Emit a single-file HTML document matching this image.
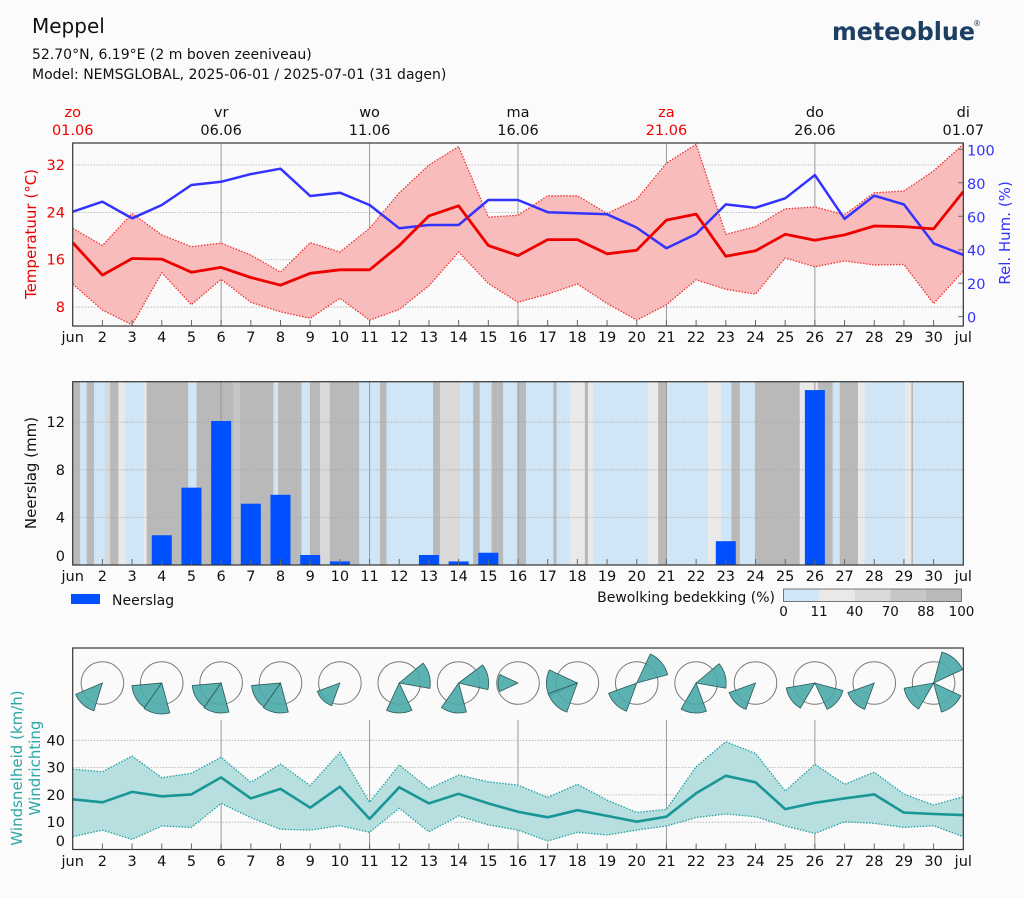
<!DOCTYPE html>
<html><head><meta charset="utf-8">
<style>
body{margin:0;background:#fbfbfb;width:1024px;height:894px;overflow:hidden;font-family:"DejaVu Sans","Liberation Sans",sans-serif;}
svg text{font-family:"DejaVu Sans","Liberation Sans",sans-serif;}
</style></head>
<body>
<svg id="c" width="1024" height="894" viewBox="0 0 1024 894" xmlns="http://www.w3.org/2000/svg">
<defs><clipPath id="cp1"><rect x="72.7" y="143" width="890.6" height="183"/></clipPath></defs>
<text x="32" y="33" font-size="20" fill="#111">Meppel</text>
<text x="32" y="59" font-size="14" fill="#111">52.70°N, 6.19°E (2 m boven zeeniveau)</text>
<text x="32" y="79" font-size="14" fill="#111">Model: NEMSGLOBAL, 2025-06-01 / 2025-07-01 (31 dagen)</text>
<text x="832" y="40" font-size="25" font-weight="bold" fill="#1d3f63" textLength="143" lengthAdjust="spacingAndGlyphs">meteoblue</text>
<text x="973" y="26" font-size="8" fill="#1d3f63">®</text>
<g id="g"></g>
</svg>
<script>
const days = [1,2,3,4,5,6,7,8,9,10,11,12,13,14,15,16,17,18,19,20,21,22,23,24,25,26,27,28,29,30,31];
const tempMean = [18.9,13.4,16.2,16.1,13.9,14.7,13.0,11.7,13.7,14.3,14.3,18.4,23.4,25.1,18.4,16.7,19.4,19.4,17.0,17.6,22.7,23.7,16.6,17.5,20.3,19.3,20.2,21.7,21.6,21.2,27.5];
const tempMax = [21.3,18.4,23.8,20.2,18.2,18.8,16.8,13.9,18.9,17.3,21.3,27.3,32.0,35.1,23.2,23.5,26.8,26.8,23.8,26.2,32.3,35.5,20.3,21.6,24.6,24.9,23.6,27.3,27.6,31.0,35.5];
const tempMin = [11.9,7.5,5.0,13.8,8.4,12.7,8.8,7.2,6.1,9.5,5.8,7.6,11.6,17.3,12.0,8.8,10.2,11.9,8.6,5.8,8.4,12.6,11.0,10.2,16.3,14.8,15.8,15.1,15.2,8.6,14.1];
const humidity = [62.7,68.7,58.8,66.7,78.7,80.6,85.2,88.4,72.1,74.1,66.7,52.8,54.8,54.8,69.7,69.7,62.4,61.8,61.2,53.2,40.9,49.4,67.1,65.1,70.7,84.6,58.4,72.3,67.1,43.8,36.9];
const precip = [0,0,0,2.5,6.5,12.1,5.15,5.9,0.84,0.3,0,0,0.84,0.3,1.03,0,0,0,0,0,0,0,2.0,0,0,14.7,0,0,0,0];
const windMean = [18.4,17.3,21.1,19.5,20.2,26.4,18.7,22.2,15.3,23.0,11.2,22.8,16.9,20.4,16.9,13.8,11.8,14.4,12.3,10.2,12.0,20.6,27.0,24.6,14.8,17.1,18.7,20.2,13.5,13.0,12.6];
const windMax = [29.4,28.5,34.2,26.3,27.9,33.8,24.6,31.3,23.4,35.6,17.3,31.0,22.2,27.3,24.8,23.6,19.1,23.9,18.1,13.6,14.7,30.3,39.5,35.2,21.4,31.2,23.9,28.3,20.3,16.3,19.3];
const windMin = [4.7,7.1,3.7,8.6,8.1,16.9,11.7,7.4,7.1,8.7,6.3,15.1,6.5,12.3,9.0,7.1,3.1,6.3,5.3,7.1,8.6,11.7,13.0,12.0,8.6,5.9,10.2,9.6,8.1,8.7,4.7];
const cloudStart = [0,0.25,0.47,0.72,1.09,1.26,1.54,1.76,2.40,2.49,3.89,4.17,5.41,5.63,6.76,6.92,7.71,7.99,8.33,8.66,9.65,10.35,10.57,12.14,12.37,13.04,13.49,13.71,14.11,14.50,15.0,15.27,16.19,16.3,16.75,16.98,17.25,17.36,17.53,19.38,19.72,20.0,21.4,21.57,21.85,22.19,22.47,22.98,23.26,24.49,25.1,25.6,25.84,26.45,26.68,28.03,28.25,28.31];
const cloudEnd   = [0.25,0.47,0.72,1.09,1.26,1.54,1.76,2.40,2.49,3.89,4.17,5.41,5.63,6.76,6.92,7.71,7.99,8.33,8.66,9.65,10.35,10.57,12.14,12.37,13.04,13.49,13.71,14.11,14.50,15.0,15.27,16.19,16.3,16.75,16.98,17.25,17.36,17.53,19.38,19.72,20.0,21.4,21.57,21.85,22.19,22.47,22.98,23.26,24.49,25.1,25.6,25.84,26.45,26.68,28.03,28.25,28.31,30];
const cloudCover = [95,5,95,5,50,92,30,5,35,95,5,92,75,92,5,90,5,90,40,95,5,90,5,90,60,5,90,5,90,5,90,5,90,5,30,20,90,30,5,30,90,5,35,25,5,90,5,90,95,15,92,5,92,30,5,30,90,5];
const roseDay = [2,4,6,8,10,12,14,16,18,20,22,24,26,28,30];
const wedgeRose = [0,1,1,2,2,3,3,4,5,5,6,6,7,8,8,9,9,10,10,11,12,12,13,14,14,14];
const wedgeDir  = [222,240,190,240,190,240,190,225,180,75,190,78,270,270,225,50,225,185,75,225,235,130,225,40,235,140];
const wedgeLen  = [29,30,31,29,30,29,30,24,30,31,30,30,20,31,31,32,30,30,30,28,29,29,28,32,30,30];
const tempTicks = [8,16,24,32];
const humTicks = [0,20,40,60,80,100];
const rainTicks = [0,4,8,12];
const windTicks = [0,10,20,30,40];
const dayLabels = ['jun','2','3','4','5','6','7','8','9','10','11','12','13','14','15','16','17','18','19','20','21','22','23','24','25','26','27','28','29','30','jul'];
const topWeekday = ['zo','vr','wo','ma','za','do','di'];
const topDates = ['01.06','06.06','11.06','16.06','21.06','26.06','01.07'];
const topDays = [1,6,11,16,21,26,31];
const topRed = [true,false,false,false,true,false,false];

const NS='http://www.w3.org/2000/svg';
const G=document.getElementById('g');
function mk(tag,attrs,parent){const e=document.createElementNS(NS,tag);for(const k in attrs)e.setAttribute(k,attrs[k]);(parent||G).appendChild(e);return e;}
const X0=72.7,X1=963.3,DX=(X1-X0)/30;
const xd=d=>X0+(d-1)*DX;
const yT=t=>165-(t-32)*5.92;
const yH=h=>316.7-h*1.674;
const yR=r=>565-r*11.9;
const yW=w=>849.5-w*2.73;
const P1={t:143,b:326},P2={t:381.7,b:565},P3={t:648,b:849.5};

function frame(p,name){
  const r=mk('rect',{x:X0,y:p.t,width:X1-X0,height:p.b-p.t,fill:'#fafafa',stroke:'none'});
  
}
function border(p,name){
  const r=mk('rect',{x:X0,y:p.t,width:X1-X0,height:p.b-p.t,fill:'none',stroke:'#333','stroke-width':1.2});
  
}
function vlines(p,top){
  for(const d of [6,11,16,21,26]){const l=mk('line',{x1:xd(d),x2:xd(d),y1:top||p.t,y2:p.b,stroke:'#999','stroke-width':1});
    }
}
function hgrid(ys){
  for(const y of ys){const l=mk('line',{x1:X0,x2:X1,y1:y,y2:y,stroke:'#aaa','stroke-width':0.8,'stroke-dasharray':'1.5,1.5'});
    }
}
function xaxis(p,ly){
  days.forEach((d,i)=>{
    if(i>0&&i<30){const t=mk('line',{x1:xd(d),x2:xd(d),y1:p.b,y2:p.b-6,stroke:'#666','stroke-width':1});
      }
    const tx=mk('text',{x:xd(d),y:ly,'font-size':14.5,'text-anchor':'middle',fill:'#111'});tx.textContent=dayLabels[i];
    
  });
}
function poly(pts){return pts.map(p=>p[0].toFixed(1)+','+p[1].toFixed(1)).join(' ');}

topDays.forEach((d,i)=>{
  const c=topRed[i]?'#e00':'#111';
  const a=mk('text',{x:xd(d),y:117,'font-size':14.5,'text-anchor':'middle',fill:c});a.textContent=topWeekday[i];
  
  const b=mk('text',{x:xd(d),y:135,'font-size':14.5,'text-anchor':'middle',fill:c});b.textContent=topDates[i];
  
});

// ===== Panel 1 =====
frame(P1,'temperature-plot');
hgrid(tempTicks.map(yT));
vlines(P1);
const s1=mk('g',{'clip-path':'url(#cp1)'});


const band=mk('polygon',{points:poly(days.map((d,i)=>[xd(d),yT(tempMax[i])]).concat(days.map((d,i)=>[xd(d),yT(tempMin[i])]).reverse())),fill:'#f9bcbc',stroke:'none'},s1);

const tmx=mk('polyline',{points:poly(days.map((d,i)=>[xd(d),yT(tempMax[i])])),fill:'none',stroke:'#e33','stroke-width':1.3,'stroke-dasharray':'1.5,1.5'},s1);

const tmn=mk('polyline',{points:poly(days.map((d,i)=>[xd(d),yT(tempMin[i])])),fill:'none',stroke:'#e33','stroke-width':1.3,'stroke-dasharray':'1.5,1.5'},s1);

const hum=mk('polyline',{points:poly(days.map((d,i)=>[xd(d),yH(humidity[i])])),fill:'none',stroke:'#3333ff','stroke-width':2.5,'stroke-linejoin':'round'},s1);

const tm=mk('polyline',{points:poly(days.map((d,i)=>[xd(d),yT(tempMean[i])])),fill:'none',stroke:'#ee0000','stroke-width':2.8,'stroke-linejoin':'round'},s1);

border(P1,'temperature-plot');
xaxis(P1,342);
tempTicks.forEach(t=>{const tx=mk('text',{x:65,y:yT(t)+5,'font-size':14.5,'text-anchor':'end',fill:'#e00'});tx.textContent=t;
  });
humTicks.forEach(h=>{const tx=mk('text',{x:967,y:yH(h)+6,'font-size':14.5,'text-anchor':'start',fill:'#3333ff'});tx.textContent=h;
  
  const tk=mk('line',{x1:X1,x2:X1-5,y1:yH(h),y2:yH(h),stroke:'#666'});});
let yl=mk('text',{x:0,y:0,'font-size':15,'text-anchor':'middle',fill:'#e00',transform:'translate(36,234) rotate(-90)'});yl.textContent='Temperatuur (°C)';

yl=mk('text',{x:0,y:0,'font-size':15,'text-anchor':'middle',fill:'#3333ff',transform:'translate(1010,233) rotate(-90)'});yl.textContent='Rel. Hum. (%)';


// ===== Panel 2 =====
frame(P2,'precipitation-plot');
const ccol=c=>c<11?'#d0e6f6':c<40?'#e9e9e9':c<70?'#d9d9d9':c<88?'#c6c6c6':'#b9b9b9';
cloudStart.forEach((s,i)=>{const r=mk('rect',{x:X0+s*DX,y:P2.t,width:(cloudEnd[i]-s)*DX+0.3,height:P2.b-P2.t,fill:ccol(cloudCover[i])});
  });
hgrid(rainTicks.slice(1).map(yR));
vlines(P2);
precip.forEach((v,i)=>{if(v<=0)return;const d=days[i];
  const r=mk('rect',{x:xd(d)-10,y:yR(v),width:20,height:yR(0)-yR(v),fill:'#0050ff'});
  });
border(P2,'precipitation-plot');
xaxis(P2,581);
rainTicks.forEach(t=>{const tx=mk('text',{x:65,y:(t===0?561:yR(t)+5),'font-size':14.5,'text-anchor':'end',fill:'#111'});tx.textContent=t;
  });
yl=mk('text',{x:0,y:0,'font-size':15,'text-anchor':'middle',fill:'#111',transform:'translate(36,473) rotate(-90)'});yl.textContent='Neerslag (mm)';

let lg=mk('rect',{x:71,y:594,width:29,height:10,fill:'#0050ff'});
lg=mk('text',{x:112,y:605,'font-size':14,fill:'#111'});lg.textContent='Neerslag';
lg=mk('text',{x:775,y:602,'font-size':14,'text-anchor':'end',fill:'#111'});lg.textContent='Bewolking bedekking (%)';
const cbStops=[0,11,40,70,88,100];const cbCols=['#d0e6f6','#e9e9e9','#d9d9d9','#c6c6c6','#b9b9b9'];
for(let i=0;i<5;i++){const r=mk('rect',{x:783.5+i*35.6,y:589,width:35.6,height:12.5,fill:cbCols[i]});}
lg=mk('rect',{x:783.5,y:589,width:178,height:12.5,fill:'none',stroke:'#777'});
cbStops.forEach((s,i)=>{const t=mk('text',{x:783.5+i*35.6,y:616,'font-size':13.5,'text-anchor':'middle',fill:'#111'});t.textContent=s;
  });

// ===== Panel 3 =====
frame(P3,'wind-plot');
hgrid(windTicks.slice(1).map(yW));
vlines(P3,720);
const wb=mk('polygon',{points:poly(days.map((d,i)=>[xd(d),yW(windMax[i])]).concat(days.map((d,i)=>[xd(d),yW(windMin[i])]).reverse())),fill:'#b7dfdf'});

const wmx=mk('polyline',{points:poly(days.map((d,i)=>[xd(d),yW(windMax[i])])),fill:'none',stroke:'#22a0a0','stroke-width':1.3,'stroke-dasharray':'1.5,1.5'});

const wmn=mk('polyline',{points:poly(days.map((d,i)=>[xd(d),yW(windMin[i])])),fill:'none',stroke:'#22a0a0','stroke-width':1.3,'stroke-dasharray':'1.5,1.5'});

const wm=mk('polyline',{points:poly(days.map((d,i)=>[xd(d),yW(windMean[i])])),fill:'none',stroke:'#1a9696','stroke-width':2.6,'stroke-linejoin':'round'});

roseDay.forEach(d=>{const c=mk('circle',{cx:xd(d),cy:683,r:21.3,fill:'none',stroke:'#777','stroke-width':1});
  });
wedgeRose.forEach((ri,i)=>{
  const cx=xd(roseDay[ri]),cy=683,L=wedgeLen[i],a0=(wedgeDir[i]-25)*Math.PI/180,a1=(wedgeDir[i]+25)*Math.PI/180;
  const p0=[cx+L*Math.sin(a0),cy-L*Math.cos(a0)],p1=[cx+L*Math.sin(a1),cy-L*Math.cos(a1)];
  const w=mk('path',{d:`M${cx},${cy} L${p0[0].toFixed(1)},${p0[1].toFixed(1)} A${L},${L} 0 0 1 ${p1[0].toFixed(1)},${p1[1].toFixed(1)} Z`,fill:'#4aa8a8','fill-opacity':0.9,stroke:'#2a5a5a','stroke-width':0.8});
  
});
border(P3,'wind-plot');
xaxis(P3,866);
windTicks.forEach(t=>{const tx=mk('text',{x:65,y:(t===0?846:yW(t)+5),'font-size':14.5,'text-anchor':'end',fill:'#111'});tx.textContent=t;
  });
yl=mk('text',{x:0,y:0,'font-size':15,'text-anchor':'middle',fill:'#2aa8a8',transform:'translate(22,768) rotate(-90)'});yl.textContent='Windsnelheid (km/h)';

yl=mk('text',{x:0,y:0,'font-size':15,'text-anchor':'middle',fill:'#2aa8a8',transform:'translate(40,768) rotate(-90)'});yl.textContent='Windrichting';

</script>
</body></html>
